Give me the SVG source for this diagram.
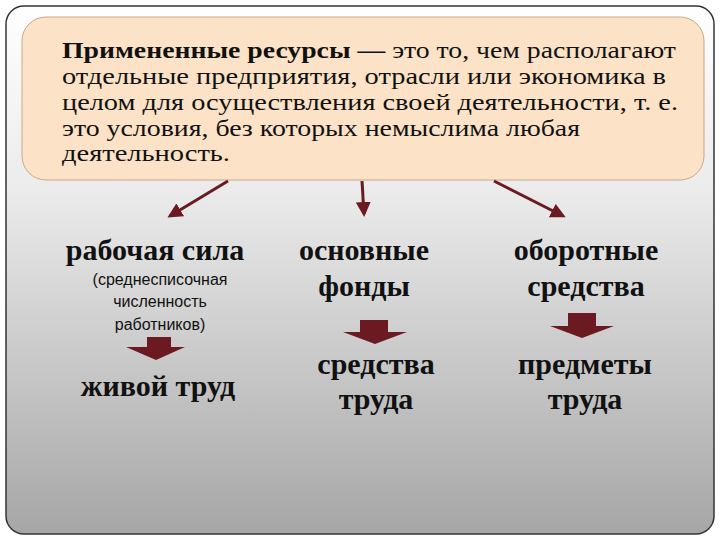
<svg xmlns="http://www.w3.org/2000/svg" width="720" height="540" viewBox="0 0 720 540">
<defs>
<linearGradient id="bg" x1="0" y1="0" x2="0" y2="1"><stop offset="0" stop-color="#ffffff"/><stop offset="0.35" stop-color="#ebebeb"/><stop offset="1" stop-color="#a6a6a6"/></linearGradient>
<marker id="ah" viewBox="0 0 10 10" refX="8" refY="5" markerWidth="5" markerHeight="5" orient="auto"><path d="M0,0 L10,5 L0,10 z" fill="#6b1a22"/></marker>
<style>
.t{font-family:"Liberation Serif","DejaVu Serif",serif;fill:#111}
.b{font-weight:bold;font-size:30px;text-anchor:middle}
.s{font-size:16px;text-anchor:middle;font-family:"Liberation Sans Narrow","Liberation Sans",sans-serif;fill:#111}
.m{font-size:24px}
.c{stroke:#6b1a22;stroke-width:3;fill:none;marker-end:url(#ah)}
.ba{fill:#6b1a22}
</style>
</defs>
<rect x="6" y="6" width="708" height="528" rx="18" fill="url(#bg)" stroke="#333" stroke-width="1.5"/>
<g id="top">
<rect x="22" y="17" width="682" height="163" rx="24" fill="#fce2c6" stroke="#c9a88a" stroke-width="1"/>
<text class="t m" x="62" y="58" textLength="614" lengthAdjust="spacingAndGlyphs"><tspan font-weight="bold">Примененные ресурсы —</tspan> это то, чем располагают</text>
<text class="t m" x="62" y="84" textLength="604" lengthAdjust="spacingAndGlyphs">отдельные предприятия, отрасли или экономика в</text>
<text class="t m" x="62" y="110" textLength="616" lengthAdjust="spacingAndGlyphs">целом для осуществления своей деятельности, т. е.</text>
<text class="t m" x="62" y="136" textLength="518" lengthAdjust="spacingAndGlyphs">это условия, без которых немыслима любая</text>
<text class="t m" x="62" y="161" textLength="168" lengthAdjust="spacingAndGlyphs">деятельность.</text>
</g>
<g id="connectors">
<line class="c" x1="228" y1="181" x2="170" y2="216"/>
<line class="c" x1="362" y1="181" x2="364" y2="214"/>
<line class="c" x1="494" y1="181" x2="563" y2="216"/>
<path class="ba" d="M147,337 H171 V347 H185 L156,360 L126,347 H147 z"/>
<path class="ba" d="M360,320 H388 V332 H407 L375,344 L343,332 H360 z"/>
<path class="ba" d="M568,313 H596 V326 H614 L582,338 L550,326 H568 z"/>
</g>
<g id="labor">
<text class="t b" x="155" y="260">рабочая сила</text>
<text class="s" x="160" y="285">(среднесписочная</text>
<text class="s" x="160" y="307">численность</text>
<text class="s" x="160" y="330">работников)</text>
<text class="t b" x="158" y="396">живой труд</text>
</g>
<g id="fixed">
<text class="t b" x="364" y="260">основные</text>
<text class="t b" x="364" y="296">фонды</text>
<text class="t b" x="376" y="374">средства</text>
<text class="t b" x="376" y="409">труда</text>
</g>
<g id="current">
<text class="t b" x="586" y="260">оборотные</text>
<text class="t b" x="586" y="296">средства</text>
<text class="t b" x="585" y="374">предметы</text>
<text class="t b" x="585" y="409">труда</text>
</g>
</svg>
